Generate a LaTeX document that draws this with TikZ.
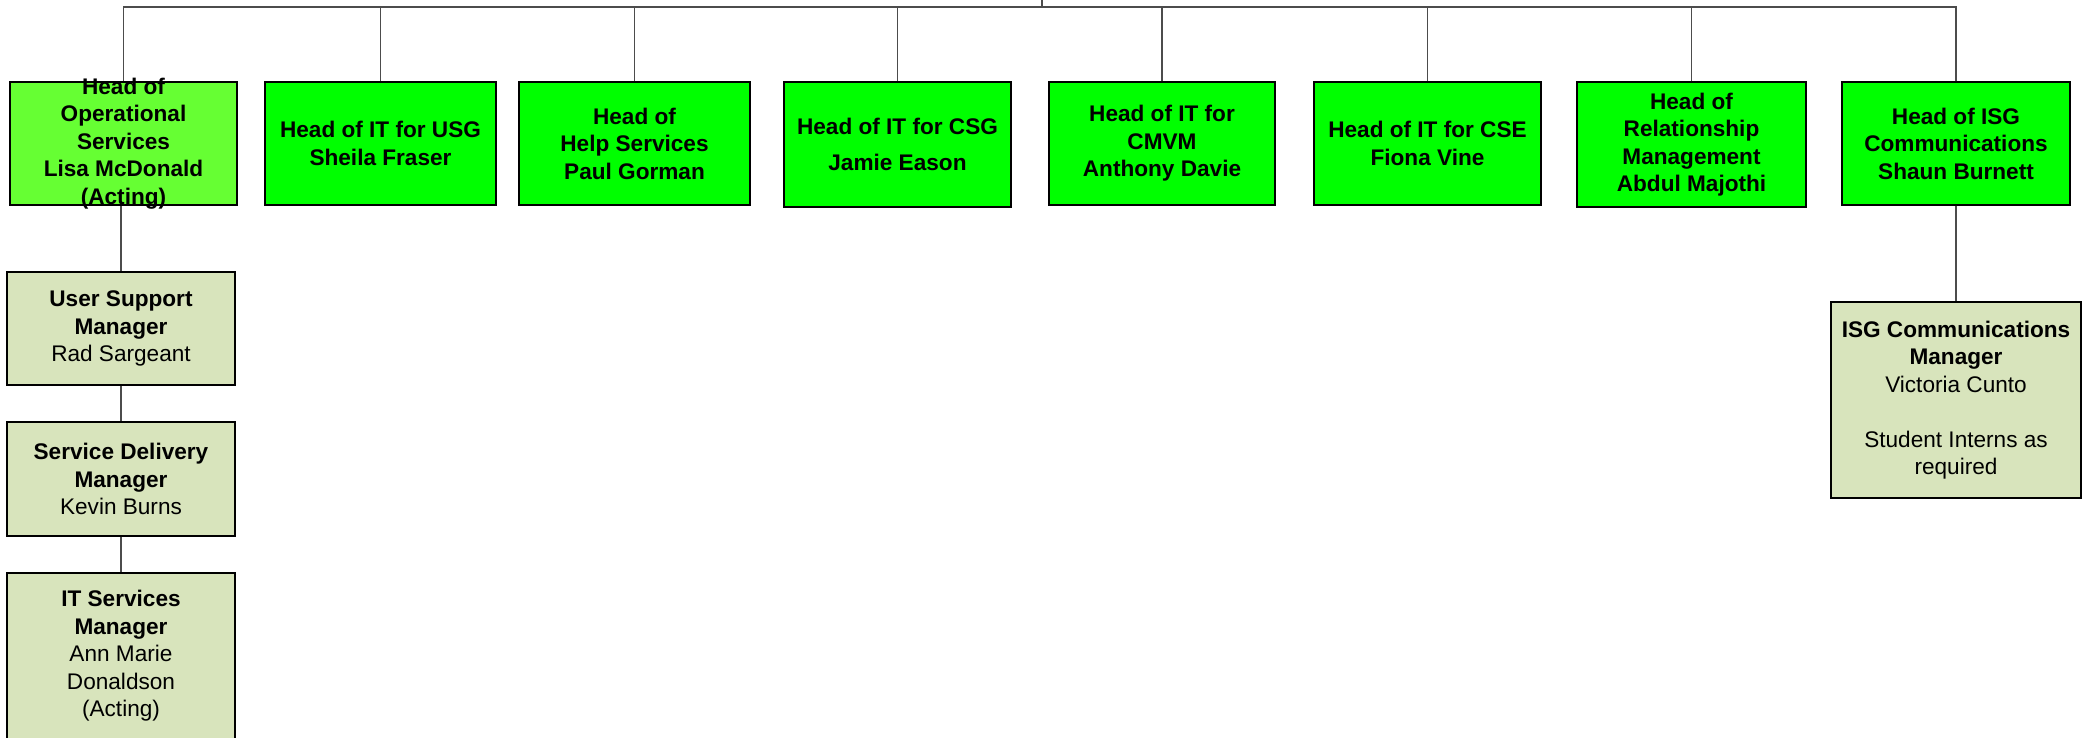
\documentclass[tikz,border=0pt]{standalone}
\usepackage{fontspec}
\setmainfont{Liberation Sans}

\definecolor{headgreen}{HTML}{00FF00}
\definecolor{actgreen}{HTML}{66FF33}
\definecolor{staffolive}{HTML}{D8E4BC}

\begin{document}
\begin{tikzpicture}[x=1pt, y=-1pt,
    head/.style={draw=black, line width=1.5pt, fill=headgreen, minimum width=229pt, minimum height=123pt,
      inner sep=0pt, align=center, font=\fontsize{22.6}{27.5}\selectfont\bfseries},
    staff/.style={draw=black, line width=1.5pt, fill=staffolive, minimum width=228pt,
      inner sep=0pt, align=center, font=\fontsize{22.6}{27.5}\selectfont},
    link/.style={draw=black!70, line width=1.2pt}]
    \useasboundingbox (0,0) rectangle (2088,738);
    \node[head, fill=actgreen, minimum width=227pt,
      label={[align=center, font=\fontsize{22.6}{27.5}\selectfont\bfseries]center:Head of\\Operational\\Services\\Lisa McDonald\\(Acting)}]
      (ops) at (123.5,143.5) {};
    \node[head, minimum width=231pt] (usg) at (380.5,143.5) {Head of IT for USG\\Sheila Fraser};
    \node[head, minimum width=231pt] (help) at (634.5,143.5) {Head of\\Help Services\\Paul Gorman};
    \node[head, minimum width=227pt, minimum height=125pt] (csg) at (897.5,144.5) {Head of IT for CSG\\[8.5pt]Jamie Eason};
    \node[head, minimum width=226pt] (cmvm) at (1162,143.5) {Head of IT for\\CMVM\\Anthony Davie};
    \node[head, minimum width=227pt] (cse) at (1427.5,143.5) {Head of IT for CSE\\Fiona Vine};
    \node[head, line width=2.5pt, minimum height=125pt] (rel) at (1691.5,144.5) {Head of\\Relationship\\Management\\Abdul Majothi};
    \node[head, minimum width=228pt] (comms) at (1956,143.5) {Head of ISG\\Communications\\Shaun Burnett};
    % staff under operational services
    \node[staff, minimum height=113pt] (usm) at (121,328.5) {\textbf{User Support}\\\textbf{Manager}\\Rad Sargeant};
    \node[staff, minimum height=114pt] (sdm) at (121,479) {\textbf{Service Delivery}\\\textbf{Manager}\\Kevin Burns};
    \node[staff, minimum height=166pt] (itsm) at (121,656) {\textbf{IT Services}\\\textbf{Manager}\\Ann Marie\\Donaldson\\(Acting)};
    % staff under communications
    \node[staff, minimum width=250pt, minimum height=196pt] (isgm) at (1956,400) {\textbf{ISG Communications}\\\textbf{Manager}\\Victoria Cunto\\[27.5pt]Student Interns as\\required};
    \coordinate (root) at (1042,0);
    \coordinate (bus) at (1042,7);
    \draw[link] (root) -- (bus);
    \foreach \n in {ops,usg,help,csg,cmvm,cse,rel,comms}
      \draw[link] (\n.north) |- (bus);
    \draw[link] (usm.north |- ops.south) -- (usm.north);
    \draw[link] (usm.south) -- (sdm.north);
    \draw[link] (sdm.south) -- (itsm.north);
    \draw[link] (comms.south) -- (isgm.north);
\end{tikzpicture}
\end{document}
